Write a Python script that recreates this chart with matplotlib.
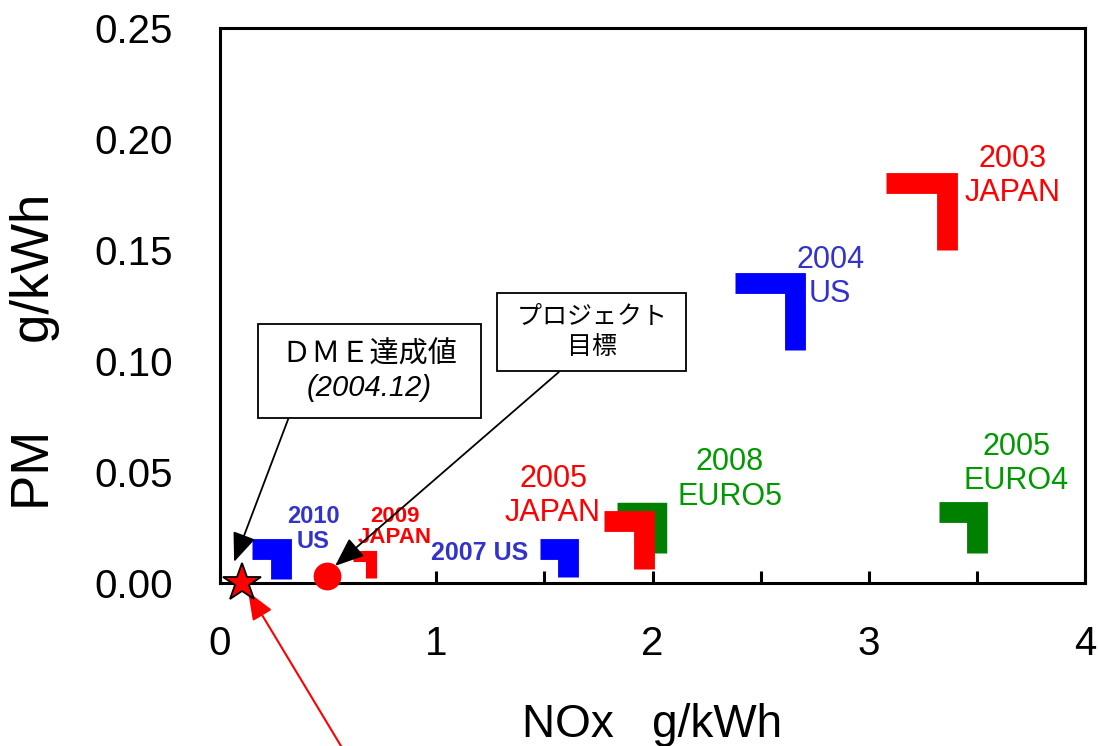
import matplotlib.pyplot as plt

plt.rcParams['font.family'] = ['Liberation Sans', 'Noto Sans CJK JP']

# emission limits, corner of each L mark = (NOx, PM) in g/kWh
names = ['2008\nEURO5', '2003\nJAPAN', '2004\nUS', '2005\nJAPAN',
         '2005\nEURO4', '2007 US', '2010\nUS', '2009\nJAPAN']
nox = [2.02, 3.36, 2.66, 1.96, 3.50, 1.61, 0.28, 0.70]
pm = [0.032, 0.180, 0.135, 0.028, 0.032, 0.0155, 0.0155, 0.012]
region = ['EU', 'JP', 'US', 'JP', 'EU', 'US', 'US', 'JP']

# measured DME result and project target
dme_nox = [0.10]
dme_pm = [0.0]
target_nox = [0.495]
target_pm = [0.003]

# look of the marks
mark_col = {'EU': '#008000', 'JP': '#ff0000', 'US': '#0000ff'}
text_col = {'EU': '#009900', 'JP': '#ff0000', 'US': '#3333cc'}
# arm length in x, arm length in y, line width (pt)
arm = [(0.185, 0.0185, 14), (0.28, 0.030, 15), (0.28, 0.030, 15), (0.185, 0.0215, 15),
       (0.175, 0.0185, 15), (0.13, 0.013, 15), (0.13, 0.0137, 15), (0.085, 0.0098, 8)]
# label centre (x, y), size, bold
lab = [(2.358, 0.0466, 22, False), (3.667, 0.1833, 22, False), (2.821, 0.1378, 22, False),
       (1.540, 0.0392, 22, False), (3.681, 0.0536, 22, False), (1.202, 0.0135, 18, True),
       (0.430, 0.0243, 17, True), (0.809, 0.0250, 16, True)]

fig = plt.figure(figsize=(10.98, 7.46), dpi=100)
ax = fig.add_axes([0.2004, 0.2185, 0.7878, 0.744])

for i in range(len(names)):
    dx, dy, lw = arm[i]
    ax.plot([nox[i] - dx, nox[i], nox[i]], [pm[i], pm[i], pm[i] - dy],
            color=mark_col[region[i]], lw=lw,
            solid_joinstyle='miter', solid_capstyle='butt', zorder=2)
    tx, ty, fs, bold = lab[i]
    ax.text(tx, ty, names[i], color=text_col[region[i]], fontsize=fs,
            fontweight='bold' if bold else 'normal', ha='center', va='center',
            linespacing=1.0 if fs == 16 else (1.1 if bold else 1.2))

ax.plot(dme_nox, dme_pm, ls='none', marker='*', ms=29, color='red',
        mec='black', mew=1.3, clip_on=False, zorder=6)
ax.plot(target_nox, target_pm, ls='none', marker='o', ms=19, color='red',
        clip_on=False, zorder=6)

# call-out boxes
black_arrow = dict(arrowstyle='-|>,head_length=1.0,head_width=0.4', color='black',
                   lw=1.3, mutation_scale=18, shrinkA=0, shrinkB=0)
arr1 = dict(black_arrow, relpos=(0.11, 0.0))
ax.annotate(' ＤＭＥ達成値 \n(2004.12)', xy=(0.065, 0.0095), xytext=(0.69, 0.0955),
            fontsize=21, style='italic', ha='center', va='center', linespacing=1.25,
            bbox=dict(boxstyle='square,pad=0.55', fc='white', ec='black', lw=1.3),
            arrowprops=arr1, zorder=4)
arr2 = dict(black_arrow, relpos=(0.39, 0.0))
ax.annotate(' プロジェクト \n目標', xy=(0.532, 0.0077), xytext=(1.72, 0.1130),
            fontsize=18, style='italic', ha='center', va='center', linespacing=1.3,
            bbox=dict(boxstyle='square,pad=0.5', fc='white', ec='black', lw=1.3),
            arrowprops=arr2, zorder=4)

# red arrow coming from below the plot
ax.annotate('', xy=(0.13, -0.004), xytext=(0.60, -0.08), annotation_clip=False,
            arrowprops=dict(arrowstyle='-|>,head_length=1.0,head_width=0.4', color='red',
                            lw=1.5, mutation_scale=17, shrinkA=0, shrinkB=0))

ax.set_xlim(0, 4)
ax.set_ylim(0, 0.25)
ax.set_xticks([0, 1, 2, 3, 4])
ax.set_xticks([0.5, 1.5, 2.5, 3.5], minor=True)
ax.set_yticks([0, 0.05, 0.10, 0.15, 0.20, 0.25])
ax.yaxis.set_major_formatter('{x:.2f}')
ax.tick_params(axis='x', which='both', direction='in', length=8.6, width=2.2,
               labelsize=29, pad=30)
ax.tick_params(axis='y', length=0, labelsize=29, pad=34)
for s in ax.spines.values():
    s.set_linewidth(2.2)

ax.set_xlabel('NOx   g/kWh', fontsize=33, va='baseline')
ax.xaxis.set_label_coords(0.5, -0.277)
ax.set_ylabel('PM      g/kWh', fontsize=38, va='center')
ax.yaxis.set_label_coords(-0.214, 0.416)

fig.savefig('out.png', dpi=100)
